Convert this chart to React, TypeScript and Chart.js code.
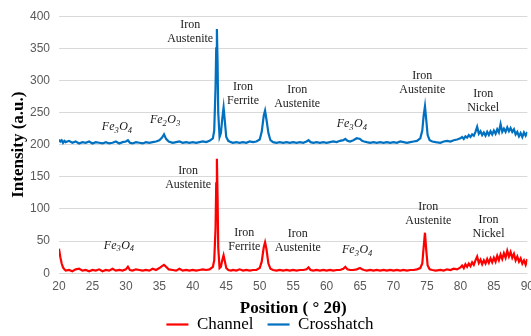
import React, { useEffect, useRef } from "react";
import { Chart, registerables } from "chart.js";

Chart.register(...registerables);

// 2θ positions (degrees) shared by both scans
const positions = [
  20, 20.2, 20.4, 20.6, 20.8, 21,
  21.5, 22, 22.5, 23, 23.5, 24, 24.5, 25, 25.5, 26, 26.5, 27, 27.5, 28, 28.5, 29, 29.5, 30,
  30.3, 30.6,
  31, 31.5, 32, 32.5, 33, 33.5, 34, 34.5, 35,
  35.4, 35.7, 36, 36.4,
  37, 37.5, 38, 38.5, 39, 39.5, 40, 40.5, 41, 41.5, 42, 42.5, 43,
  43.2, 43.4, 43.5, 43.6, 43.7, 43.8, 44.0, 44.2, 44.4, 44.6, 44.8, 45.0, 45.3,
  45.7, 46, 46.5, 47, 47.5, 48, 48.5, 49, 49.5, 50, 50.3, 50.6, 50.8, 51.0, 51.3, 51.6, 52,
  52.5, 53, 53.5, 54, 54.5, 55, 55.5, 56, 56.5, 57,
  57.3, 57.6,
  58, 58.5, 59, 59.5, 60, 60.5, 61, 61.5, 62, 62.5,
  62.8, 63.1, 63.5,
  64, 64.5, 65,
  65.3, 65.6,
  66, 66.5, 67, 67.5, 68, 68.5, 69, 69.5, 70, 70.5, 71, 71.5, 72, 72.5, 73, 73.5, 74,
  74.3, 74.5, 74.7, 74.9, 75.1, 75.4, 75.8, 76.3, 77, 77.5, 78, 78.5, 79, 79.5, 80,
  80.25, 80.5, 80.75, 81, 81.25, 81.5, 81.75, 82, 82.25, 82.5,
  82.75, 83, 83.25, 83.5, 83.75, 84, 84.25, 84.5, 84.75, 85,
  85.25, 85.5, 85.75, 86, 86.25, 86.5, 86.75, 87, 87.25, 87.5,
  87.75, 88, 88.25, 88.5, 88.75, 89, 89.25, 89.5, 89.75, 90,
];

const channel = [
  38, 25, 15, 9, 6, 4,
  5, 3, 6, 7, 4, 5, 3, 5, 4, 6, 3, 5, 4, 7, 4, 5, 4, 6,
  10, 5,
  4, 6, 5, 4, 5, 4, 7, 5, 8,
  11, 13, 10, 6,
  5, 4, 7, 4, 5, 4, 5, 4, 5, 6, 5, 6, 10,
  20, 70, 140, 178, 120, 40, 8, 10, 20, 28, 18, 8, 5,
  4, 5, 4, 6, 4, 5, 4, 5, 5, 8, 18, 40, 48, 38, 15, 7, 5,
  4, 5, 4, 5, 4, 5, 4, 5, 5, 6,
  9, 5,
  4, 5, 4, 5, 4, 5, 4, 5, 5, 7,
  10, 6, 5,
  5, 6, 8,
  6, 5,
  4, 5, 4, 5, 4, 5, 4, 5, 4, 5, 4, 5, 4, 5, 5, 6, 8,
  15, 40, 63, 35, 12, 6, 5, 4, 5, 4, 6, 5, 7, 6, 9,
  12, 8, 14, 10, 15, 11, 17, 13, 20, 26,
  16, 21, 14, 20, 15, 22, 16, 23, 17, 24,
  18, 27, 20, 29, 22, 31, 24, 35, 26, 33,
  24, 30, 20, 26, 18, 23, 15, 20, 13, 22,
];

const crosshatch = [
  208, 205, 207, 203, 206, 204,
  206, 203, 205, 202, 204, 203, 205, 202, 204, 203, 202, 204, 202, 203, 205, 202, 204, 205,
  207, 203,
  202, 204, 203, 202, 204, 203, 204, 205, 207,
  211, 216, 209, 205,
  203, 204, 205, 203, 204, 203, 204, 203, 204, 205, 204, 206, 210,
  222, 290, 350, 380, 330, 250, 212, 218, 240, 258, 235, 212, 206,
  204, 203, 204, 203, 204, 203, 205, 204, 205, 208, 220, 245, 253, 240, 218, 207, 204,
  203, 204, 203, 204, 203, 204, 203, 204, 203, 205,
  207, 204,
  203, 204, 203, 204, 203, 204, 205, 204, 206, 207,
  209, 206, 205,
  207, 210, 209,
  206, 205,
  204, 203, 204, 203, 204, 203, 204, 203, 204, 203, 205, 204, 203, 204, 205, 206, 210,
  222, 245, 260, 238, 215, 207, 205, 204, 203, 205, 206, 205, 207, 208, 210,
  212, 209, 213, 211, 215, 212, 216, 214, 220, 228,
  217, 221, 215, 219, 214, 220, 215, 221, 216, 222,
  217, 224, 219, 232, 220, 225, 220, 227, 221, 226,
  220, 224, 216, 220, 213, 218, 212, 219, 214, 220,
];

const seriesNames = ["Channel", "Crosshatch"];
const seriesColors = ["#FF0000", "#0070C0"];

const xMin = 20;
const xMax = 90;
const xStep = 5;
const yMin = 0;
const yMax = 400;
const yStep = 50;

// Peak labels, anchored at data coordinates (2θ, intensity)
const peakLabels = [
  "Iron\nAustenite", "Iron\nFerrite", "Iron\nAustenite", "Fe3O4", "Fe2O3", "Fe3O4", "Iron\nAustenite", "Iron\nNickel",
  "Iron\nAustenite", "Iron\nFerrite", "Iron\nAustenite", "Fe3O4", "Fe3O4", "Iron\nAustenite", "Iron\nNickel",
];
const peakLabelX = [39.6, 47.5, 55.6, 28.7, 35.9, 63.8, 74.3, 83.4, 39.3, 47.7, 55.7, 29, 64.6, 75.2, 84.2];
const peakLabelY = [375, 279, 275, 229, 240, 233, 296, 268, 149, 52, 51, 44, 37, 93, 72];

const SERIF = "'Liberation Serif', 'Times New Roman', serif";
const SANS = "'Liberation Sans', Arial, sans-serif";

function drawFormula(ctx: CanvasRenderingContext2D, text: string, cx: number, cy: number) {
  const mainFont = `italic 12px ${SERIF}`;
  const subFont = `italic 8.5px ${SERIF}`;
  const parts = text.split("").map((ch) => ({ ch, sub: /[0-9]/.test(ch) }));
  let total = 0;
  const widths = parts.map((p) => {
    ctx.font = p.sub ? subFont : mainFont;
    const w = ctx.measureText(p.ch).width + (p.sub ? 0.5 : 0);
    total += w;
    return w;
  });
  let x = cx - total / 2;
  ctx.textAlign = "left";
  ctx.textBaseline = "alphabetic";
  parts.forEach((p, i) => {
    ctx.font = p.sub ? subFont : mainFont;
    ctx.fillText(p.ch, x, p.sub ? cy + 6.5 : cy + 4);
    x += widths[i];
  });
}

const peakLabelPlugin = {
  id: "peakLabels",
  afterDatasetsDraw(chart: any) {
    const ctx: CanvasRenderingContext2D = chart.ctx;
    const xs = chart.scales.x;
    const ys = chart.scales.y;
    ctx.save();
    ctx.fillStyle = "#1a1a1a";
    peakLabels.forEach((label, i) => {
      const px = xs.getPixelForValue(peakLabelX[i]);
      const py = ys.getPixelForValue(peakLabelY[i]);
      if (label.startsWith("Fe")) {
        drawFormula(ctx, label, px, py);
      } else {
        const lines = label.split("\n");
        ctx.font = `12px ${SERIF}`;
        ctx.textAlign = "center";
        ctx.textBaseline = "middle";
        const lh = 14;
        lines.forEach((ln, j) => {
          ctx.fillText(ln, px, py + (j - (lines.length - 1) / 2) * lh);
        });
      }
    });
    ctx.restore();
  },
};

export default function App() {
  const canvasRef = useRef<HTMLCanvasElement | null>(null);

  useEffect(() => {
    const canvas = canvasRef.current;
    if (!canvas) return;
    const datasets = [channel, crosshatch].map((vals, k) => ({
      label: seriesNames[k],
      data: positions.map((x, i) => ({ x, y: vals[i] })),
      borderColor: seriesColors[k],
      backgroundColor: seriesColors[k],
      borderWidth: 2.2,
      pointRadius: 0,
      tension: 0,
      fill: false,
    }));
    const chart = new Chart(canvas, {
      type: "line",
      data: { datasets },
      plugins: [peakLabelPlugin],
      options: {
        animation: false,
        responsive: false,
        maintainAspectRatio: false,
        layout: { padding: { top: 7, left: 0, right: 0, bottom: -7 } },
        plugins: {
          tooltip: { enabled: false },
          legend: {
            position: "bottom",
            labels: {
              usePointStyle: true,
              pointStyle: "line",
              pointStyleWidth: 22,
              color: "#000",
              font: { family: SERIF, size: 17 },
              padding: 14,
            },
          },
        },
        scales: {
          x: {
            type: "linear",
            min: xMin,
            max: xMax,
            grid: { display: false, drawTicks: false },
            border: { display: false },
            ticks: {
              stepSize: xStep,
              color: "#595959",
              font: { family: SANS, size: 12 },
              padding: 6,
              maxRotation: 0,
            },
            title: {
              display: true,
              text: "Position ( ° 2θ)",
              color: "#000",
              font: { family: SERIF, size: 17, weight: "bold" },
              padding: { top: -1, bottom: -17 },
            },
          },
          y: {
            min: yMin,
            max: yMax,
            grid: { color: "#D9D9D9", lineWidth: 1, drawTicks: false },
            border: { display: false },
            ticks: {
              stepSize: yStep,
              color: "#595959",
              font: { family: SANS, size: 12 },
              padding: 9,
            },
            title: {
              display: true,
              text: "Intensity (a.u.)",
              color: "#000",
              font: { family: SERIF, size: 17, weight: "bold" },
              padding: { top: 8, bottom: 0 },
            },
            afterFit: (scale: any) => {
              scale.width = 59;
            },
          },
        },
      },
    } as any);
    return () => chart.destroy();
  }, []);

  return (
    <div style={{ position: "fixed", left: 0, top: 0, width: 531, height: 336, overflow: "hidden", background: "#fff" }}>
      <canvas ref={canvasRef} width={540} height={336} style={{ display: "block" }} />
    </div>
  );
}
